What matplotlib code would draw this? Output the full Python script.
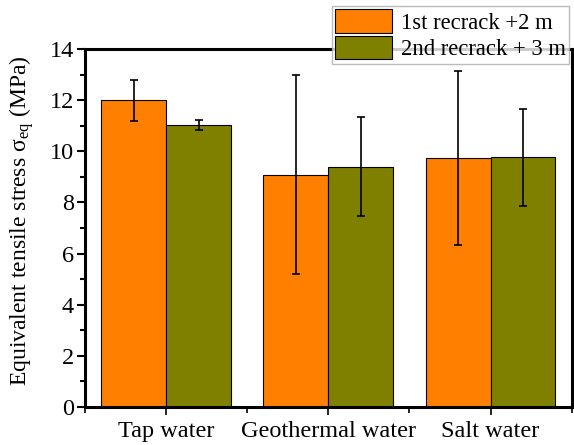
import matplotlib
matplotlib.use("Agg")
import matplotlib.pyplot as plt
import numpy as np
from matplotlib.ticker import MultipleLocator, FixedLocator

categories = ["Tap water", "Geothermal water", "Salt water"]
series_names = ["1st recrack +2 m", "2nd recrack + 3 m"]
first_vals = [12.0, 9.09, 9.75]
first_err = [0.8, 3.88, 3.4]
second_vals = [11.02, 9.39, 9.76]
second_err = [0.2, 1.93, 1.91]
colors = ["#FF8000", "#808000"]

plt.rcParams["font.family"] = ["Liberation Serif", "DejaVu Serif"]
plt.rcParams["mathtext.fontset"] = "custom"
plt.rcParams["mathtext.rm"] = "Liberation Serif"
plt.rcParams["mathtext.it"] = "Liberation Serif:italic"

fig = plt.figure(figsize=(5.74, 4.45), dpi=100)
ax = fig.add_axes([0.148, 0.0854, 0.848, 0.8046])

x = np.arange(len(categories))
w = 0.4
ekw = dict(elinewidth=1.2, capthick=1.2, ecolor="black")
ax.bar(x - w / 2, first_vals, w, color=colors[0], edgecolor="black", linewidth=0.8,
       yerr=first_err, capsize=3, error_kw=ekw, label=series_names[0], zorder=2)
ax.bar(x + w / 2, second_vals, w, color=colors[1], edgecolor="black", linewidth=0.8,
       yerr=second_err, capsize=3, error_kw=ekw, label=series_names[1], zorder=2)

ax.set_xlim(-0.5, 2.5)
ax.set_ylim(0, 14)
ax.set_xticks(x)
ax.set_xticklabels(categories, fontsize=17.5)
ax.xaxis.set_minor_locator(FixedLocator([-0.5, 0.5, 1.5, 2.5]))
ax.yaxis.set_major_locator(MultipleLocator(2))
ax.yaxis.set_minor_locator(MultipleLocator(1))
ax.tick_params(axis="y", which="major", labelsize=17.5, length=6, width=1.5, direction="out", pad=2)
ax.tick_params(axis="y", which="minor", length=3.5, width=1.5, direction="out")
ax.tick_params(axis="x", which="major", length=6, width=1.2, direction="out", pad=4)
ax.tick_params(axis="x", which="minor", length=4, width=1.2, direction="out")
for s in ax.spines.values():
    s.set_linewidth(2.2)

ax.set_ylabel(r"Equivalent tensile stress σ$_{\mathrm{eq}}$ (MPa)", fontsize=17)
ax.yaxis.set_label_coords(-0.10, 0.52)

leg = fig.legend(loc="upper right", bbox_to_anchor=(569 / 574, 1 - 6 / 445),
                 fontsize=16.3, frameon=True, fancybox=False, edgecolor="#aaaaaa",
                 handlelength=2.5, handleheight=1.2, handletextpad=0.4,
                 borderpad=0.15, labelspacing=0.1, borderaxespad=0.0)
leg.get_frame().set_linewidth(1.0)
leg.set_zorder(5)

fig.savefig("out.png", dpi=100)
